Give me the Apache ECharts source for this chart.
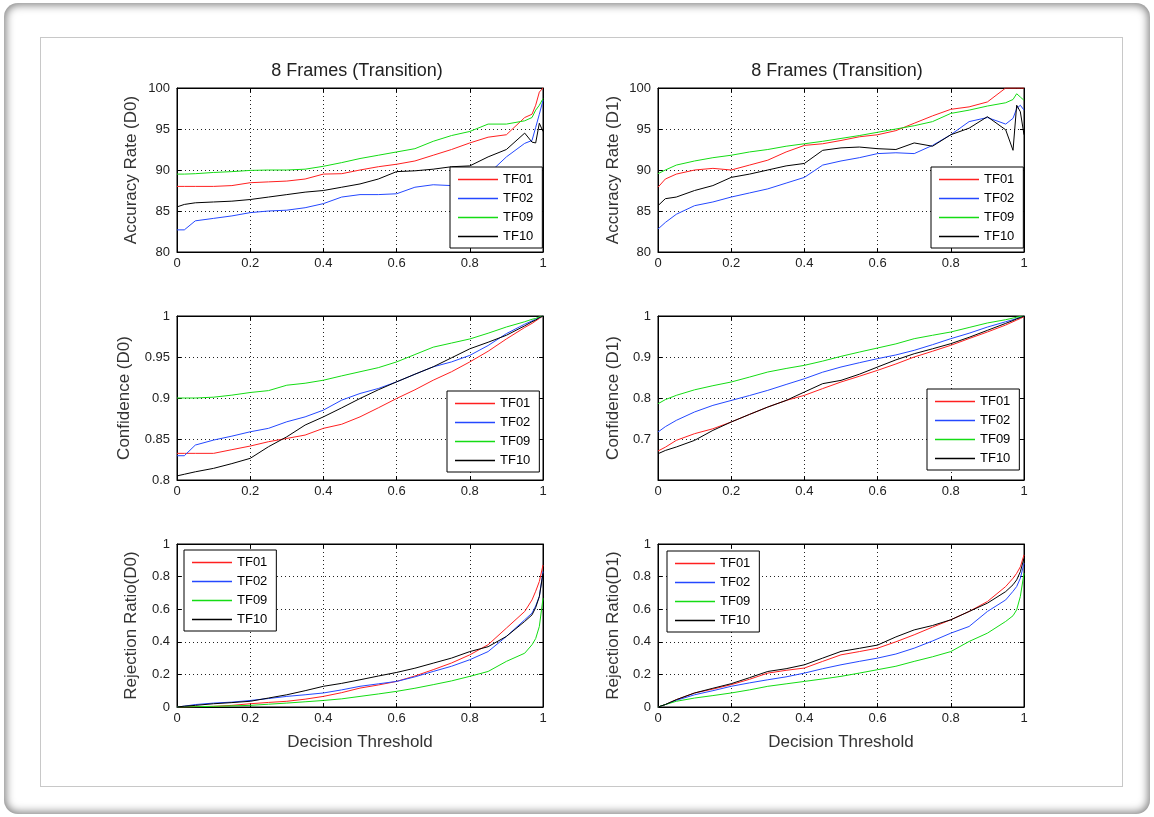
<!DOCTYPE html>
<html>
<head>
<meta charset="utf-8">
<script src="https://cdn.jsdelivr.net/npm/echarts@6/dist/echarts.min.js"></script>
<style>
  html, body { margin: 0; padding: 0; background: #ffffff; }
  #frame { position: absolute; left: 4px; top: 3px; width: 1146px; height: 811px;
           border-radius: 14px; box-shadow: inset 0 0 8px 2px rgba(0,0,0,0.5); background: #fff; }
  #inner { position: absolute; left: 40px; top: 37px; width: 1081px; height: 748px;
           border: 1px solid #c8c8c8; background: #fff; }
  #chart { position: absolute; left: 0; top: 0; width: 1154px; height: 817px; }
</style>
</head>
<body>
<div id="frame"></div>
<div id="inner"></div>
<div id="chart"></div>
<script>
// ---------------- data ----------------
const thresholds = [0, 0.02, 0.05, 0.1, 0.15, 0.2, 0.25, 0.3, 0.35, 0.4, 0.45, 0.5, 0.55, 0.6, 0.65, 0.7, 0.75, 0.8, 0.85, 0.9, 0.95, 0.97, 0.98, 0.99, 1];

const seriesNames = ['TF01', 'TF02', 'TF09', 'TF10'];

// Accuracy Rate (D0)
const accD0_TF01 = [88.0, 88.0, 88.0, 88.0, 88.1, 88.45, 88.55, 88.65, 88.9, 89.5, 89.55, 90.0, 90.4, 90.7, 91.1, 91.8, 92.5, 93.3, 94.0, 94.3, 96.4, 96.8, 97.9, 99.5, 100];
const accD0_TF02 = [82.7, 82.7, 83.8, 84.1, 84.4, 84.8, 85.0, 85.1, 85.4, 85.9, 86.7, 87.0, 87.0, 87.1, 87.9, 88.2, 88.1, 88.6, 89.5, 91.6, 93.25, 93.6, 95.2, 96.8, 98.5];
const accD0_TF09 = [89.5, 89.5, 89.55, 89.7, 89.8, 89.95, 90.0, 90.0, 90.1, 90.45, 90.9, 91.4, 91.8, 92.2, 92.6, 93.5, 94.2, 94.7, 95.6, 95.6, 96.0, 96.4, 97.3, 97.9, 98.7];
const accD0_TF10 = [85.5, 85.8, 86.0, 86.1, 86.2, 86.4, 86.7, 87.0, 87.3, 87.5, 87.9, 88.3, 88.9, 89.8, 89.9, 90.1, 90.4, 90.5, 91.6, 92.5, 94.5, 93.4, 93.3, 95.7, 94.7];

// Accuracy Rate (D1)
const accD1_TF01 = [87.9, 88.9, 89.5, 90.0, 90.2, 90.0, 90.6, 91.2, 92.2, 93.0, 93.2, 93.6, 94.05, 94.3, 94.8, 95.7, 96.6, 97.4, 97.7, 98.3, 100, 100, 100, 100, 100];
const accD1_TF02 = [82.8, 83.6, 84.6, 85.65, 86.1, 86.7, 87.2, 87.7, 88.4, 89.1, 90.6, 91.1, 91.5, 92.0, 92.1, 92.0, 93.0, 94.3, 95.9, 96.4, 95.6, 96.3, 97.5, 97.9, 97.3];
const accD1_TF09 = [89.55, 90.0, 90.6, 91.1, 91.5, 91.8, 92.2, 92.5, 92.9, 93.2, 93.5, 93.85, 94.2, 94.6, 95.0, 95.4, 95.9, 96.9, 97.3, 97.8, 98.2, 98.6, 99.3, 98.9, 98.5];
const accD1_TF10 = [85.65, 86.5, 86.7, 87.5, 88.1, 89.1, 89.5, 90.0, 90.5, 90.8, 92.4, 92.7, 92.8, 92.6, 92.5, 93.3, 92.9, 94.3, 95.1, 96.5, 94.9, 92.4, 97.9, 97.1, 94.3];

// Confidence (D0)
const confD0_TF01 = [0.8325, 0.8325, 0.8325, 0.8325, 0.837, 0.8414, 0.8467, 0.8507, 0.8548, 0.863, 0.868, 0.877, 0.888, 0.8994, 0.91, 0.9217, 0.932, 0.944, 0.957, 0.972, 0.986, 0.991, 0.994, 0.997, 1.0];
const confD0_TF02 = [0.8296, 0.8296, 0.8426, 0.8487, 0.8535, 0.8588, 0.863, 0.871, 0.877, 0.8852, 0.8974, 0.9055, 0.9116, 0.9197, 0.929, 0.938, 0.944, 0.952, 0.964, 0.9785, 0.99, 0.994, 0.996, 0.998, 1.0];
const confD0_TF09 = [0.9, 0.9, 0.9, 0.901, 0.9035, 0.9067, 0.909, 0.9156, 0.918, 0.9217, 0.927, 0.932, 0.937, 0.944, 0.953, 0.962, 0.967, 0.972, 0.979, 0.9866, 0.993, 0.996, 0.997, 0.999, 1.0];
const confD0_TF10 = [0.805, 0.807, 0.81, 0.8142, 0.82, 0.8264, 0.8406, 0.8527, 0.867, 0.877, 0.888, 0.8994, 0.91, 0.9197, 0.929, 0.938, 0.949, 0.96, 0.968, 0.9765, 0.988, 0.993, 0.995, 0.998, 1.0];

// Confidence (D1)
const confD1_TF01 = [0.6707, 0.68, 0.6967, 0.713, 0.725, 0.7415, 0.76, 0.778, 0.794, 0.8065, 0.823, 0.839, 0.853, 0.8675, 0.883, 0.9, 0.914, 0.9285, 0.945, 0.961, 0.978, 0.986, 0.99, 0.994, 0.998];
const confD1_TF02 = [0.717, 0.73, 0.7455, 0.766, 0.782, 0.794, 0.806, 0.8187, 0.833, 0.847, 0.863, 0.8756, 0.886, 0.896, 0.905, 0.9163, 0.93, 0.9447, 0.958, 0.973, 0.986, 0.991, 0.994, 0.997, 1.0];
const confD1_TF09 = [0.786, 0.796, 0.8065, 0.82, 0.83, 0.839, 0.851, 0.8634, 0.872, 0.8797, 0.89, 0.9016, 0.912, 0.922, 0.932, 0.9447, 0.953, 0.961, 0.972, 0.983, 0.991, 0.995, 0.997, 0.999, 1.0];
const confD1_TF10 = [0.664, 0.672, 0.6805, 0.6967, 0.721, 0.7415, 0.76, 0.778, 0.794, 0.8146, 0.835, 0.843, 0.858, 0.8756, 0.893, 0.908, 0.92, 0.9325, 0.948, 0.965, 0.982, 0.989, 0.993, 0.996, 1.0];

// Rejection Ratio (D0)
const rejD0_TF01 = [0, 0, 0.002, 0.004, 0.01, 0.02, 0.028, 0.035, 0.048, 0.065, 0.088, 0.116, 0.135, 0.157, 0.19, 0.229, 0.27, 0.32, 0.382, 0.484, 0.586, 0.657, 0.71, 0.77, 0.871];
const rejD0_TF02 = [0, 0.005, 0.015, 0.024, 0.03, 0.04, 0.052, 0.065, 0.075, 0.086, 0.105, 0.127, 0.142, 0.157, 0.185, 0.218, 0.25, 0.29, 0.34, 0.433, 0.535, 0.576, 0.62, 0.678, 0.83];
const rejD0_TF09 = [0, 0, 0.002, 0.004, 0.007, 0.01, 0.017, 0.024, 0.032, 0.04, 0.05, 0.065, 0.08, 0.096, 0.115, 0.137, 0.16, 0.188, 0.218, 0.28, 0.33, 0.382, 0.42, 0.494, 0.667];
const rejD0_TF10 = [0, 0.005, 0.01, 0.02, 0.027, 0.035, 0.055, 0.075, 0.1, 0.127, 0.145, 0.167, 0.19, 0.212, 0.238, 0.269, 0.3, 0.34, 0.37, 0.433, 0.525, 0.565, 0.61, 0.678, 0.82];

// Rejection Ratio (D1)
const rejD1_TF01 = [0, 0.015, 0.045, 0.086, 0.11, 0.137, 0.17, 0.208, 0.225, 0.239, 0.28, 0.32, 0.34, 0.361, 0.4, 0.443, 0.49, 0.535, 0.586, 0.647, 0.739, 0.79, 0.82, 0.86, 0.933];
const rejD1_TF02 = [0, 0.015, 0.041, 0.075, 0.1, 0.127, 0.148, 0.167, 0.185, 0.208, 0.235, 0.259, 0.28, 0.3, 0.325, 0.361, 0.405, 0.453, 0.494, 0.586, 0.657, 0.71, 0.739, 0.79, 0.882];
const rejD1_TF09 = [0, 0.015, 0.035, 0.055, 0.07, 0.086, 0.105, 0.127, 0.142, 0.157, 0.172, 0.188, 0.208, 0.229, 0.25, 0.28, 0.308, 0.34, 0.402, 0.453, 0.525, 0.56, 0.596, 0.678, 0.82];
const rejD1_TF10 = [0, 0.015, 0.045, 0.086, 0.115, 0.143, 0.18, 0.218, 0.235, 0.259, 0.3, 0.341, 0.36, 0.38, 0.43, 0.473, 0.5, 0.535, 0.586, 0.637, 0.708, 0.75, 0.78, 0.83, 0.912];

// tick values and labels
const xTickValues = [0, 0.2, 0.4, 0.6, 0.8, 1];
const xTickLabels = ['0', '0.2', '0.4', '0.6', '0.8', '1'];
const accTickValues = [80, 85, 90, 95, 100];
const accTickLabels = ['80', '85', '90', '95', '100'];
const confD0TickValues = [0.8, 0.85, 0.9, 0.95, 1];
const confD0TickLabels = ['0.8', '0.85', '0.9', '0.95', '1'];
const confD1TickValues = [0.6, 0.7, 0.8, 0.9, 1];
const confD1TickLabels = ['', '0.7', '0.8', '0.9', '1'];
const rejTickValues = [0, 0.2, 0.4, 0.6, 0.8, 1];
const rejTickLabels = ['0', '0.2', '0.4', '0.6', '0.8', '1'];

const panelTitles = ['8 Frames (Transition)', '8 Frames (Transition)', '', '', '', ''];
const yAxisNames = ['Accuracy Rate (D0)', 'Accuracy Rate (D1)', 'Confidence (D0)', 'Confidence (D1)', 'Rejection Ratio(D0)', 'Rejection Ratio(D1)'];
const xAxisNames = ['', '', '', '', 'Decision Threshold', 'Decision Threshold'];

const panelData = [
  [accD0_TF01, accD0_TF02, accD0_TF09, accD0_TF10],
  [accD1_TF01, accD1_TF02, accD1_TF09, accD1_TF10],
  [confD0_TF01, confD0_TF02, confD0_TF09, confD0_TF10],
  [confD1_TF01, confD1_TF02, confD1_TF09, confD1_TF10],
  [rejD0_TF01, rejD0_TF02, rejD0_TF09, rejD0_TF10],
  [rejD1_TF01, rejD1_TF02, rejD1_TF09, rejD1_TF10]
];
const yTickValueSets = [accTickValues, accTickValues, confD0TickValues, confD1TickValues, rejTickValues, rejTickValues];
const yTickLabelSets = [accTickLabels, accTickLabels, confD0TickLabels, confD1TickLabels, rejTickLabels, rejTickLabels];

// ---------------- layout / style ----------------
const seriesColors = ['#ff2020', '#2448ff', '#14dc14', '#000000'];
const FONT = '"Liberation Sans", Arial, Helvetica, sans-serif';
const gridPos = [[177, 88], [658, 88], [177, 316], [658, 316], [177, 544], [658, 544]];
const gridW = 366, gridH = 164;
const legendPos = [[450, 167], [931, 167], [447, 391], [927, 389], [184, 550], [667, 551]];
const yNameGaps = [37, 36, 44, 36, 37, 36];
const titleCenters = [357, 837];

function labelFor(values, labels) {
  return function (v) {
    for (let i = 0; i < values.length; i++) {
      if (Math.abs(values[i] - v) < 1e-6) return labels[i];
    }
    return '';
  };
}

const grids = [], xAxes = [], yAxes = [], series = [], legends = [], titles = [];
const gridLine = { show: true, lineStyle: { color: '#222', width: 1, type: [1, 3] } };
const tickStyle = { show: true, inside: true, length: 4, lineStyle: { color: '#000', width: 1 } };

for (let p = 0; p < 6; p++) {
  grids.push({ left: gridPos[p][0], top: gridPos[p][1], width: gridW, height: p >= 4 ? 163 : gridH,
               show: true, borderColor: '#000', borderWidth: 1, backgroundColor: 'rgba(0,0,0,0)' });
  const yv = yTickValueSets[p];
  const yMin = yv[0], yMax = yv[yv.length - 1], yInt = yv[1] - yv[0];
  xAxes.push({
    type: 'value', gridIndex: p, min: 0, max: 1, interval: 0.2, position: 'bottom',
    name: xAxisNames[p], nameLocation: 'middle', nameGap: 27,
    nameTextStyle: { fontFamily: FONT, fontSize: 17, color: '#333' },
    axisLine: { show: true, onZero: false, lineStyle: { color: '#000', width: 1 } },
    axisTick: tickStyle,
    axisLabel: { show: true, margin: 5, fontFamily: FONT, fontSize: 13, color: '#222',
                 showMinLabel: true, showMaxLabel: true,
                 formatter: labelFor(xTickValues, xTickLabels) },
    splitLine: gridLine
  });
  yAxes.push({
    type: 'value', gridIndex: p, min: yMin, max: yMax, interval: yInt, position: 'left',
    name: yAxisNames[p], nameLocation: 'middle', nameGap: yNameGaps[p], nameRotate: 90,
    nameTextStyle: { fontFamily: FONT, fontSize: 17, color: '#333' },
    axisLine: { show: true, onZero: false, lineStyle: { color: '#000', width: 1 } },
    axisTick: tickStyle,
    axisLabel: { show: true, margin: 7, fontFamily: FONT, fontSize: 13, color: '#222',
                 showMinLabel: true, showMaxLabel: true,
                 formatter: labelFor(yv, yTickLabelSets[p]) },
    splitLine: gridLine
  });
  for (let s = 0; s < 4; s++) {
    series.push({
      name: seriesNames[s], type: 'line', xAxisIndex: p, yAxisIndex: p,
      data: thresholds.map((x, i) => [x, panelData[p][s][i]]),
      symbol: 'none', showSymbol: false, smooth: false, clip: true,
      lineStyle: { color: seriesColors[s], width: 1 }, itemStyle: { color: seriesColors[s] }
    });
  }
  legends.push({
    data: seriesNames, orient: 'vertical', left: legendPos[p][0], top: legendPos[p][1],
    icon: 'rect', itemWidth: 40, itemHeight: 1.5, itemGap: 6, padding: [6, 9, 5, 8],
    backgroundColor: '#fff', borderColor: '#000', borderWidth: 1, borderRadius: 0,
    selectedMode: false,
    textStyle: { fontFamily: FONT, fontSize: 13, color: '#000' }
  });
}
// secondary axes (top / right) for MATLAB-style box ticks
for (let p = 0; p < 6; p++) {
  const yv = yTickValueSets[p];
  xAxes.push({ type: 'value', gridIndex: p, min: 0, max: 1, interval: 0.2, position: 'top',
    axisLine: { show: true, onZero: false, lineStyle: { color: '#000' } }, axisTick: tickStyle,
    axisLabel: { show: false }, splitLine: { show: false } });
  yAxes.push({ type: 'value', gridIndex: p, min: yv[0], max: yv[yv.length - 1], interval: yv[1] - yv[0], position: 'right',
    axisLine: { show: true, onZero: false, lineStyle: { color: '#000' } }, axisTick: tickStyle,
    axisLabel: { show: false }, splitLine: { show: false } });
}
for (let p = 0; p < 2; p++) {
  titles.push({ text: panelTitles[p], left: titleCenters[p], top: 62, textAlign: 'center', padding: 0,
                textStyle: { fontFamily: FONT, fontSize: 18, fontWeight: 'normal', color: '#222' } });
}

const chart = echarts.init(document.getElementById('chart'), null, { renderer: 'canvas' });
chart.setOption({
  animation: false,
  backgroundColor: 'transparent',
  title: titles,
  grid: grids,
  xAxis: xAxes,
  yAxis: yAxes,
  legend: legends,
  series: series
});
</script>
</body>
</html>
